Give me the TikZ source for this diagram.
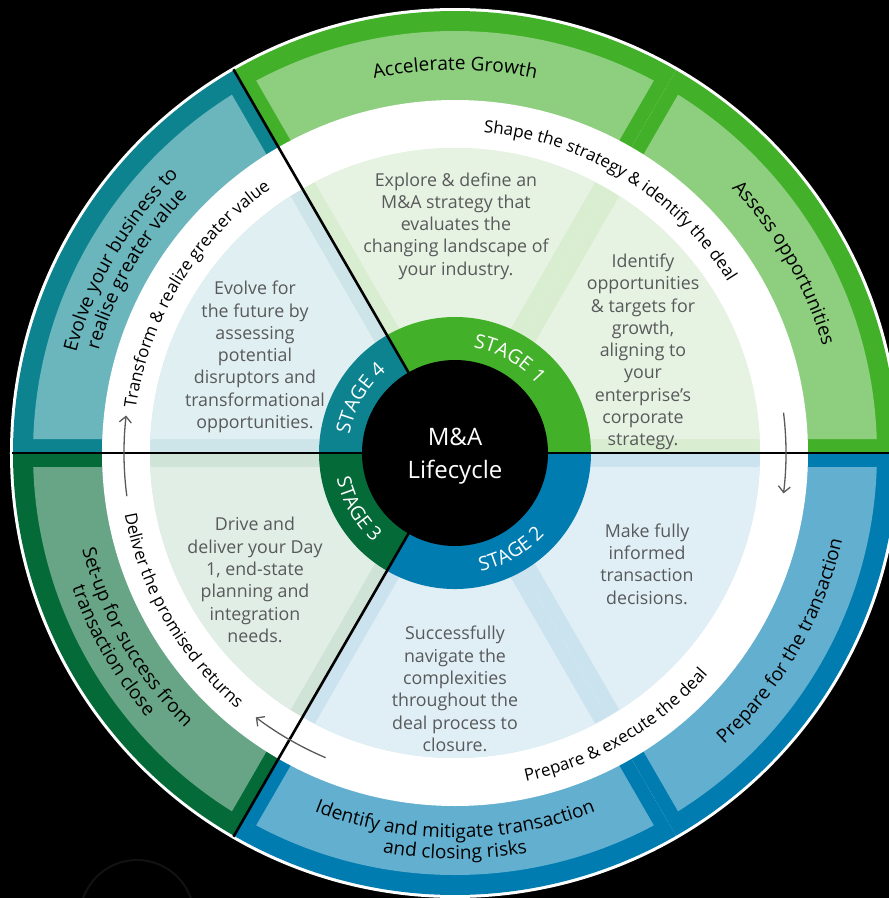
\documentclass[tikz,border=0pt]{standalone}
\usepackage{fontspec}
\setmainfont{Open Sans}
\usetikzlibrary{arrows.meta,decorations.text}

\definecolor{stageone}{HTML}{43B02A}
\definecolor{stagetwo}{HTML}{007CB0}
\definecolor{stagethree}{HTML}{046A38}
\definecolor{stagefour}{HTML}{0D8390}
\definecolor{bandone}{HTML}{8DCE7F}
\definecolor{bandtwo}{HTML}{63AFD0}
\definecolor{bandthree}{HTML}{67A586}
\definecolor{bandfour}{HTML}{6BB5BC}
\definecolor{paleframeone}{HTML}{D9EDD1}
\definecolor{paleone}{HTML}{E7F3E2}
\definecolor{paleframetwo}{HTML}{CBE3EF}
\definecolor{paletwo}{HTML}{E0EFF6}
\definecolor{paleframethree}{HTML}{D0E3D7}
\definecolor{palethree}{HTML}{E1EEE6}
\definecolor{paleframefour}{HTML}{CDE4E8}
\definecolor{palefour}{HTML}{E0EFF1}
\definecolor{txtgray}{HTML}{58595B}
\definecolor{arrgray}{HTML}{5A5A5C}
\providecommand{\bandfont}{\fontsize{19}{21}\selectfont}
\providecommand{\ringfont}{\fontsize{17}{19}\selectfont}
\providecommand{\stagefont}{\fontsize{19.5}{21}\selectfont}

\begin{document}
\begin{tikzpicture}[x=1pt, y=1pt, every node/.style={align=center},
  blurb/.style={text=txtgray, font=\fontsize{17.8}{22.3}\selectfont},
  cycarrow/.style={draw=arrgray, line width=1.3pt, -{Straight Barb[length=6pt,width=12pt]}},
  divider/.style={draw=black, line width=2.6pt}]
\useasboundingbox (-455,-445) rectangle (434,453);
\fill[black] (-455,-445) rectangle (434,453);
\clip (-455,-445) rectangle (434,453);
\draw[black!93!white, line width=2pt] (-318,-464) circle[radius=57];
\fill[white] (0,0) circle[radius=445];
% outer band, six pieces
\foreach \a/\dk/\lt in {0/stageone/bandone, 60/stageone/bandone, 120/stagefour/bandfour,
    180/stagethree/bandthree, 240/stagetwo/bandtwo, 300/stagetwo/bandtwo} {
  \fill[\dk] (0,0) -- (\a:442) arc[start angle=\a, delta angle=60, radius=442] -- cycle;
  \begin{scope}
    \clip[shift={(\a+30:28)}] (0,0) -- (\a:700) -- (\a+60:700) -- cycle;
    \fill[\lt] (0,0) circle[radius=422];
  \end{scope}
}
\fill[white] (0,0) circle[radius=353];
% pale inner sectors
\foreach \a/\pf/\pl in {0/paleframeone/paleone, 60/paleframeone/paleone, 120/paleframefour/palefour,
    180/paleframethree/palethree, 240/paleframetwo/paletwo, 300/paleframetwo/paletwo} {
  \fill[\pf] (0,0) -- (\a:305) arc[start angle=\a, delta angle=60, radius=305] -- cycle;
  \begin{scope}
    \clip[shift={(\a+30:28)}] (0,0) -- (\a:700) -- (\a+60:700) -- cycle;
    \fill[\pl] (0,0) circle[radius=305];
  \end{scope}
}
% stage ring
\fill[stageone] (0,0) -- (0:136) arc[start angle=0, end angle=120, radius=136] -- cycle;
\fill[stagefour] (0,0) -- (120:136) arc[start angle=120, end angle=180, radius=136] -- cycle;
\fill[stagethree] (0,0) -- (180:136) arc[start angle=180, end angle=240, radius=136] -- cycle;
\fill[stagetwo] (0,0) -- (240:136) arc[start angle=240, end angle=360, radius=136] -- cycle;
\draw[divider] (180:443) -- (0:443);
\draw[divider] (0,0) -- (120:443);
\draw[divider] (0,0) -- (240:443);
\node[circle, fill=black, minimum size=186pt, inner sep=0pt] (core) at (0,0) {};
\node[text=white, font=\fontsize{24}{33}\selectfont] (title) at (0,-3) {M\&A\\Lifecycle};

% stage labels
\path[decorate, decoration={text along path, text align=center,
  text={|\stagefont\color{white}|STAGE 1}}] (100:107) arc[start angle=100, end angle=20, radius=107];
\path[decorate, decoration={text along path, text align=center,
  text={|\stagefont\color{white}|STAGE 2}}] (-100:121) arc[start angle=-100, end angle=-20, radius=121];
\path[decorate, decoration={text along path, text align=center,
  text={|\stagefont\color{white}|STAGE 3}}] (170:121) arc[start angle=170, end angle=250, radius=121];
\path[decorate, decoration={text along path, text align=center,
  text={|\stagefont\color{white}|STAGE 4}}] (190:107) arc[start angle=190, end angle=110, radius=107];

% outer band texts
\path[decorate, decoration={text along path, text align=center,
  text={|\bandfont|Accelerate Growth}}] (120:383) arc[start angle=120, end angle=60, radius=383];
\path[decorate, decoration={text along path, text align=center,
  text={|\bandfont|Assess opportunities}}] (60:383) arc[start angle=60, end angle=0, radius=383];
\path[decorate, decoration={text along path, text align=center,
  text={|\bandfont|Prepare for the transaction}}] (-60:397) arc[start angle=-60, end angle=0, radius=397];
\path[decorate, decoration={text along path, text align=center,
  text={|\bandfont|Identify and mitigate transaction}}] (-125:385) arc[start angle=-125, end angle=-55, radius=385];
\path[decorate, decoration={text along path, text align=center,
  text={|\bandfont|and closing risks}}] (-125:406) arc[start angle=-125, end angle=-55, radius=406];
\path[decorate, decoration={text along path, text align=center,
  text={|\bandfont|Set-up for success from}}] (180:385) arc[start angle=180, end angle=240, radius=385];
\path[decorate, decoration={text along path, text align=center,
  text={|\bandfont|transaction close}}] (180:406) arc[start angle=180, end angle=240, radius=406];
\path[decorate, decoration={text along path, text align=center,
  text={|\bandfont|Evolve your business to}}] (180:392) arc[start angle=180, end angle=120, radius=392];
\path[decorate, decoration={text along path, text align=center,
  text={|\bandfont|realise greater value}}] (180:371) arc[start angle=180, end angle=120, radius=371];

% white ring texts
\path[decorate, decoration={text along path, text align=center,
  text={|\ringfont|Shape the strategy {\&} identify the deal}}] (100:322) arc[start angle=100, end angle=17, radius=322];
\path[decorate, decoration={text along path, text align=center,
  text={|\ringfont|Prepare {\&} execute the deal}}] (-100:336) arc[start angle=-100, end angle=-19, radius=336];
\path[decorate, decoration={text along path, text align=center,
  text={|\ringfont|Deliver the promised returns}}] (170:336) arc[start angle=170, end angle=250, radius=336];
\path[decorate, decoration={text along path, text align=center,
  text={|\ringfont|Transform {\&} realize greater value}}] (190:322) arc[start angle=190, end angle=107, radius=322];

\draw[cycarrow] (7:331) arc[start angle=7, end angle=-7, radius=331];
\draw[cycarrow] (247:331) arc[start angle=247, end angle=233, radius=331];
\draw[cycarrow] (187.5:331) arc[start angle=187.5, end angle=173.5, radius=331];

% sector blurbs
\node[blurb] (explore) at (1,227) {Explore \& define an\\M\&A strategy that\\evaluates the\\changing landscape of\\your industry.};
\node[blurb] (identify) at (188,101) {Identify\\opportunities\\\& targets for\\growth,\\aligning to\\your\\enterprise’s\\corporate\\strategy.};
\node[blurb] (decide) at (192,-111) {Make fully\\informed\\transaction\\decisions.};
\node[blurb] (navigate) at (0,-236) {Successfully\\navigate the\\complexities\\throughout the\\deal process to\\closure.};
\node[blurb] (drive) at (-200,-127) {Drive and\\deliver your Day\\1, end-state\\planning and\\integration\\needs.};
\node[blurb] (evolve) at (-200,96) {Evolve for\\the future by\\assessing\\potential\\disruptors and\\transformational\\opportunities.};
\end{tikzpicture}
\end{document}
